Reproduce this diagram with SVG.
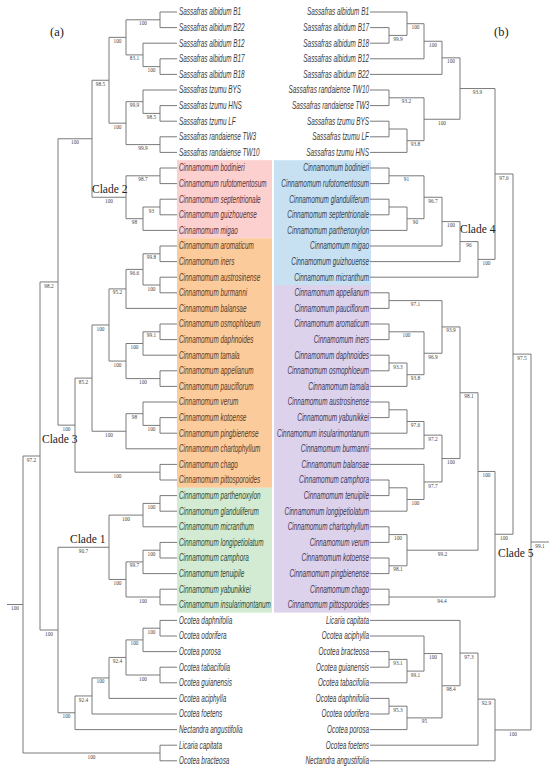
<svg xmlns="http://www.w3.org/2000/svg" width="550" height="769" viewBox="0 0 550 769">
<style>
.e{fill:none;stroke:#6b6b6b;stroke-width:0.9}
.s{font-family:"Liberation Serif",serif;font-size:5.3px;fill:#444;text-anchor:middle}
.lf{font-family:"Liberation Sans",sans-serif;font-style:italic;font-size:10px}
.r text{text-anchor:end}
.g0{fill:#3a3a3a}.gp{fill:#5e2f2f}.go{fill:#5a3a1c}.gg{fill:#2f4a2f}.gb{fill:#2f3e52}.gv{fill:#3e3556}
.cl{font-family:"Liberation Serif",serif;font-size:11.5px;fill:#222}
</style>
<rect width="550" height="769" fill="#fff"/>
<g id="bands">
<rect x="177" y="160.2" width="95" height="78" fill="#fcd0cf"/>
<rect x="177" y="238.2" width="95" height="249.6" fill="#fbcb9c"/>
<rect x="177" y="487.8" width="95" height="124.8" fill="#d3ebd3"/>
<rect x="274" y="160.2" width="97" height="124.8" fill="#c7e1f3"/>
<rect x="274" y="285" width="97" height="327.6" fill="#dcd2ec"/>
</g>
<g id="connectors" class="e">
<path d="M177 12H160V27.6H177M177 58.8H160V74.4H177M177 43.2H143V66.6H160M160 19.8H126V54.9H143M177 105.6H160V121.2H177M177 90H143V113.4H160M177 136.8H160V152.4H177M143 101.7H126V144.6H160M126 37.35H109V123.15H126"/>
<path d="M177 168H160V183.6H177M177 199.2H160V214.8H177M160 207H143V230.4H177M160 175.8H126V218.7H143M109 80.25H92V197.25H126"/>
<path d="M177 246H160V261.6H177M177 277.2H160V292.8H177M160 253.8H143V285H160M143 269.4H126V308.4H177M177 324H160V339.6H177M160 331.8H143V355.2H177M177 370.8H160V386.4H177M143 343.5H126V378.6H160M126 288.9H109V361.05H126M177 417.6H160V433.2H177M177 402H143V425.4H160M143 413.7H126V448.8H177M109 324.98H92V431.25H126M177 464.4H160V480H177M92 378.1H75V472.2H160M92 138.75H58V425.15H75"/>
<path d="M177 495.6H160V511.2H177M160 503.4H143V526.8H177M177 542.4H160V558H177M160 550.2H143V573.6H177M177 589.2H160V604.8H177M143 561.9H126V597H160M143 515.1H109V579.45H126"/>
<path d="M177 620.4H160V636H177M160 628.2H143V651.6H177M177 667.2H160V682.8H177M143 639.9H126V675H160M126 657.45H109V698.4H177M109 677.93H92V714H177M92 695.96H75V729.6H177M109 547.28H58V712.78H75M58 281.95H40V630.03H58M177 745.2H160V760.8H177M40 456H23V753H160M7 604.5H23"/>
<path d="M370 27.6H389V43.2H370M370 12H407V35.4H389M407 23.7H424V58.8H370M424 41.25H442V74.4H370M370 90H389V105.6H370M370 121.2H389V136.8H370M389 129H407V152.4H370M389 97.8H424V140.7H407M442 57.83H460V119.25H424"/>
<path d="M370 168H389V183.6H370M370 199.2H389V214.8H370M389 207H407V230.4H370M389 175.8H424V218.7H407M424 197.25H442V246H370M442 221.63H460V261.6H370M460 241.6H478V277.2H370M460 88.54H495V259.4H478"/>
<path d="M370 292.8H389V308.4H370M370 324H389V339.6H370M370 355.2H389V370.8H370M389 363H407V386.4H370M389 331.8H424V374.7H407M389 300.6H442V353.25H424M370 402H389V417.6H370M389 409.8H407V433.2H370M407 421.5H424V448.8H370M370 480H389V495.6H370M389 487.8H407V511.2H370M370 464.4H424V499.5H407M424 435.15H442V481.95H424M442 326.93H460V458.55H442M370 526.8H389V542.4H370M370 558H389V573.6H370M389 534.6H407V565.8H389M460 392.74H478V550.2H407M370 589.2H389V604.8H370M478 471.47H495V597H389M495 173.97H513V534.24H495"/>
<path d="M370 651.6H389V667.2H370M389 659.4H407V682.8H370M370 636H424V671.1H407M370 698.4H389V714H370M389 706.2H407V729.6H370M424 653.55H442V717.9H407M370 620.4H460V685.73H442M460 653.06H478V745.2H370M478 699.13H495V760.8H370M513 354.1H531V729.96H495M531 542H549"/>
</g>
<g id="support-left" class="s">
<text x="143" y="25.3">100</text><text x="151.5" y="72.1">100</text><text x="134.5" y="60.4">83.1</text><text x="117.5" y="42.9">100</text>
<text x="151.5" y="118.9">98.5</text><text x="134.5" y="107.2">99.9</text><text x="143" y="150.1">99.9</text><text x="117.5" y="128.7">100</text><text x="100.5" y="85.8">98.5</text>
<text x="143" y="181.3">98.7</text><text x="151.5" y="212.5">93</text><text x="134.5" y="224.2">98</text><text x="109" y="202.8">100</text><text x="75" y="144.3">100</text>
<text x="151.5" y="259.3">99.8</text><text x="151.5" y="290.5">100</text><text x="134.5" y="274.9">96.6</text><text x="117.5" y="294.4">95.2</text>
<text x="151.5" y="337.3">99.1</text><text x="134.5" y="349">100</text><text x="143" y="384.1">100</text><text x="117.5" y="366.6">100</text><text x="100.5" y="330.5">100</text>
<text x="151.5" y="430.9">100</text><text x="134.5" y="419.2">98</text><text x="109" y="436.8">100</text><text x="117.5" y="477.7">100</text><text x="83.5" y="383.6">85.2</text><text x="66.5" y="430.7">100</text><text x="49" y="287.5">98.2</text>
<text x="151.5" y="508.9">100</text><text x="126" y="520.6">100</text><text x="151.5" y="555.7">100</text><text x="134.5" y="567.4">99.7</text><text x="143" y="602.5">100</text><text x="117.5" y="585">100</text><text x="83.5" y="552.8">90.7</text>
<text x="151.5" y="633.7">100</text><text x="134.5" y="645.4">100</text><text x="143" y="680.5">100</text><text x="117.5" y="663">92.4</text><text x="100.5" y="683.4">100</text><text x="83.5" y="701.5">92.4</text><text x="66.5" y="718.3">100</text>
<text x="49" y="635.5">100</text><text x="31.5" y="461.5">97.2</text><text x="91.5" y="758.5">100</text><text x="15" y="610">100</text>
</g>
<g id="support-right" class="s">
<text x="398" y="40.9">99.9</text><text x="415.5" y="29.2">100</text><text x="433" y="46.8">100</text><text x="451" y="63.3">100</text>
<text x="406.5" y="103.3">93.2</text><text x="415.5" y="146.2">93.8</text><text x="442" y="124.8">100</text><text x="477.5" y="94">93.9</text>
<text x="406.5" y="181.3">91</text><text x="415.5" y="224.2">90</text><text x="433" y="202.8">96.7</text><text x="451" y="227.1">100</text><text x="469" y="247.1">96</text><text x="486.5" y="264.9">100</text><text x="504" y="179.5">97.6</text>
<text x="415.5" y="306.1">97.1</text><text x="406.5" y="337.3">100</text><text x="398" y="368.5">93.3</text><text x="415.5" y="380.2">93.8</text><text x="433" y="358.8">96.9</text><text x="451" y="332.4">93.9</text>
<text x="415.5" y="427">97.6</text><text x="433" y="440.7">97.2</text><text x="415.5" y="505">100</text><text x="433" y="487.5">97.7</text><text x="451" y="464">100</text><text x="469" y="398.2">98.1</text>
<text x="398" y="540.1">100</text><text x="398" y="571.3">98.1</text><text x="442.5" y="555.7">99.2</text><text x="486.5" y="477">100</text><text x="442" y="602.5">94.4</text><text x="504" y="539.7">100</text><text x="522" y="359.6">97.5</text>
<text x="398" y="664.9">93.1</text><text x="415.5" y="676.6">99.1</text><text x="433" y="659">100</text><text x="398" y="711.7">95.3</text><text x="424.5" y="723.4">95</text><text x="451" y="691.2">98.4</text><text x="469" y="658.6">97.3</text><text x="486.5" y="704.6">92.9</text><text x="513" y="735.5">100</text><text x="540" y="547.5">99.1</text>
</g>
<g id="left-leaves" class="lf" transform="translate(179 0) scale(0.64 1)">
<g id="la01" class="g0"><text y="15.5">Sassafras albidum B1</text></g>
<g id="la02" class="g0"><text y="31.1">Sassafras albidum B22</text></g>
<g id="la03" class="g0"><text y="46.7">Sassafras albidum B12</text></g>
<g id="la04" class="g0"><text y="62.3">Sassafras albidum B17</text></g>
<g id="la05" class="g0"><text y="77.9">Sassafras albidum B18</text></g>
<g id="la06" class="g0"><text y="93.5">Sassafras tzumu BYS</text></g>
<g id="la07" class="g0"><text y="109.1">Sassafras tzumu HNS</text></g>
<g id="la08" class="g0"><text y="124.7">Sassafras tzumu LF</text></g>
<g id="la09" class="g0"><text y="140.3">Sassafras randaiense TW3</text></g>
<g id="la10" class="g0"><text y="155.9">Sassafras randaiense TW10</text></g>
<g id="la11" class="gp"><text y="171.5">Cinnamomum bodinieri</text></g>
<g id="la12" class="gp"><text y="187.1">Cinnamomum rufotomentosum</text></g>
<g id="la13" class="gp"><text y="202.7">Cinnamomum septentrionale</text></g>
<g id="la14" class="gp"><text y="218.3">Cinnamomum guizhouense</text></g>
<g id="la15" class="gp"><text y="233.9">Cinnamomum migao</text></g>
<g id="la16" class="go"><text y="249.5">Cinnamomum aromaticum</text></g>
<g id="la17" class="go"><text y="265.1">Cinnamomum iners</text></g>
<g id="la18" class="go"><text y="280.7">Cinnamomum austrosinense</text></g>
<g id="la19" class="go"><text y="296.3">Cinnamomum burmanni</text></g>
<g id="la20" class="go"><text y="311.9">Cinnamomum balansae</text></g>
<g id="la21" class="go"><text y="327.5">Cinnamomum osmophloeum</text></g>
<g id="la22" class="go"><text y="343.1">Cinnamomum daphnoides</text></g>
<g id="la23" class="go"><text y="358.7">Cinnamomum tamala</text></g>
<g id="la24" class="go"><text y="374.3">Cinnamomum appelianum</text></g>
<g id="la25" class="go"><text y="389.9">Cinnamomum pauciflorum</text></g>
<g id="la26" class="go"><text y="405.5">Cinnamomum verum</text></g>
<g id="la27" class="go"><text y="421.1">Cinnamomum kotoense</text></g>
<g id="la28" class="go"><text y="436.7">Cinnamomum pingbienense</text></g>
<g id="la29" class="go"><text y="452.3">Cinnamomum chartophyllum</text></g>
<g id="la30" class="go"><text y="467.9">Cinnamomum chago</text></g>
<g id="la31" class="go"><text y="483.5">Cinnamomum pittosporoides</text></g>
<g id="la32" class="gg"><text y="499.1">Cinnamomum parthenoxylon</text></g>
<g id="la33" class="gg"><text y="514.7">Cinnamomum glanduliferum</text></g>
<g id="la34" class="gg"><text y="530.3">Cinnamomum micranthum</text></g>
<g id="la35" class="gg"><text y="545.9">Cinnamomum longipetiolatum</text></g>
<g id="la36" class="gg"><text y="561.5">Cinnamomum camphora</text></g>
<g id="la37" class="gg"><text y="577.1">Cinnamomum tenuipile</text></g>
<g id="la38" class="gg"><text y="592.7">Cinnamomum yabunikkei</text></g>
<g id="la39" class="gg"><text y="608.3">Cinnamomum insularimontanum</text></g>
<g id="la40" class="g0"><text y="623.9">Ocotea daphnifolia</text></g>
<g id="la41" class="g0"><text y="639.5">Ocotea odorifera</text></g>
<g id="la42" class="g0"><text y="655.1">Ocotea porosa</text></g>
<g id="la43" class="g0"><text y="670.7">Ocotea tabacifolia</text></g>
<g id="la44" class="g0"><text y="686.3">Ocotea guianensis</text></g>
<g id="la45" class="g0"><text y="701.9">Ocotea aciphylla</text></g>
<g id="la46" class="g0"><text y="717.5">Ocotea foetens</text></g>
<g id="la47" class="g0"><text y="733.1">Nectandra angustifolia</text></g>
<g id="la48" class="g0"><text y="748.7">Licaria capitata</text></g>
<g id="la49" class="g0"><text y="764.3">Ocotea bracteosa</text></g>
</g>
<g id="right-leaves" class="lf r" transform="translate(369 0) scale(0.64 1)">
<g id="rb01" class="g0"><text y="15.5">Sassafras albidum B1</text></g>
<g id="rb02" class="g0"><text y="31.1">Sassafras albidum B17</text></g>
<g id="rb03" class="g0"><text y="46.7">Sassafras albidum B18</text></g>
<g id="rb04" class="g0"><text y="62.3">Sassafras albidum B12</text></g>
<g id="rb05" class="g0"><text y="77.9">Sassafras albidum B22</text></g>
<g id="rb06" class="g0"><text y="93.5">Sassafras randaiense TW10</text></g>
<g id="rb07" class="g0"><text y="109.1">Sassafras randaiense TW3</text></g>
<g id="rb08" class="g0"><text y="124.7">Sassafras tzumu BYS</text></g>
<g id="rb09" class="g0"><text y="140.3">Sassafras tzumu LF</text></g>
<g id="rb10" class="g0"><text y="155.9">Sassafras tzumu HNS</text></g>
<g id="rb11" class="gb"><text y="171.5">Cinnamomum bodinieri</text></g>
<g id="rb12" class="gb"><text y="187.1">Cinnamomum rufotomentosum</text></g>
<g id="rb13" class="gb"><text y="202.7">Cinnamomum glanduliferum</text></g>
<g id="rb14" class="gb"><text y="218.3">Cinnamomum septentrionale</text></g>
<g id="rb15" class="gb"><text y="233.9">Cinnamomum parthenoxylon</text></g>
<g id="rb16" class="gb"><text y="249.5">Cinnamomum migao</text></g>
<g id="rb17" class="gb"><text y="265.1">Cinnamomum guizhouense</text></g>
<g id="rb18" class="gb"><text y="280.7">Cinnamomum micranthum</text></g>
<g id="rb19" class="gv"><text y="296.3">Cinnamomum appelianum</text></g>
<g id="rb20" class="gv"><text y="311.9">Cinnamomum pauciflorum</text></g>
<g id="rb21" class="gv"><text y="327.5">Cinnamomum aromaticum</text></g>
<g id="rb22" class="gv"><text y="343.1">Cinnamomum iners</text></g>
<g id="rb23" class="gv"><text y="358.7">Cinnamomum daphnoides</text></g>
<g id="rb24" class="gv"><text y="374.3">Cinnamomum osmophloeum</text></g>
<g id="rb25" class="gv"><text y="389.9">Cinnamomum tamala</text></g>
<g id="rb26" class="gv"><text y="405.5">Cinnamomum austrosinense</text></g>
<g id="rb27" class="gv"><text y="421.1">Cinnamomum yabunikkei</text></g>
<g id="rb28" class="gv"><text y="436.7">Cinnamomum insularimontanum</text></g>
<g id="rb29" class="gv"><text y="452.3">Cinnamomum burmanni</text></g>
<g id="rb30" class="gv"><text y="467.9">Cinnamomum balansae</text></g>
<g id="rb31" class="gv"><text y="483.5">Cinnamomum camphora</text></g>
<g id="rb32" class="gv"><text y="499.1">Cinnamomum tenuipile</text></g>
<g id="rb33" class="gv"><text y="514.7">Cinnamomum longipetiolatum</text></g>
<g id="rb34" class="gv"><text y="530.3">Cinnamomum chartophyllum</text></g>
<g id="rb35" class="gv"><text y="545.9">Cinnamomum verum</text></g>
<g id="rb36" class="gv"><text y="561.5">Cinnamomum kotoense</text></g>
<g id="rb37" class="gv"><text y="577.1">Cinnamomum pingbienense</text></g>
<g id="rb38" class="gv"><text y="592.7">Cinnamomum chago</text></g>
<g id="rb39" class="gv"><text y="608.3">Cinnamomum pittosporoides</text></g>
<g id="rb40" class="g0"><text y="623.9">Licaria capitata</text></g>
<g id="rb41" class="g0"><text y="639.5">Ocotea aciphylla</text></g>
<g id="rb42" class="g0"><text y="655.1">Ocotea bracteosa</text></g>
<g id="rb43" class="g0"><text y="670.7">Ocotea guianensis</text></g>
<g id="rb44" class="g0"><text y="686.3">Ocotea tabacifolia</text></g>
<g id="rb45" class="g0"><text y="701.9">Ocotea daphnifolia</text></g>
<g id="rb46" class="g0"><text y="717.5">Ocotea odorifera</text></g>
<g id="rb47" class="g0"><text y="733.1">Ocotea porosa</text></g>
<g id="rb48" class="g0"><text y="748.7">Ocotea foetens</text></g>
<g id="rb49" class="g0"><text y="764.3">Nectandra angustifolia</text></g>
</g>
<g id="titles" class="cl">
<text x="50" y="36" font-size="12.5">(a)</text>
<text x="494" y="36" font-size="12.5">(b)</text>
<text x="92" y="192.5">Clade 2</text>
<text x="42" y="443">Clade 3</text>
<text x="70" y="543">Clade 1</text>
<text x="460" y="233">Clade 4</text>
<text x="498" y="557">Clade 5</text>
</g>
</svg>
